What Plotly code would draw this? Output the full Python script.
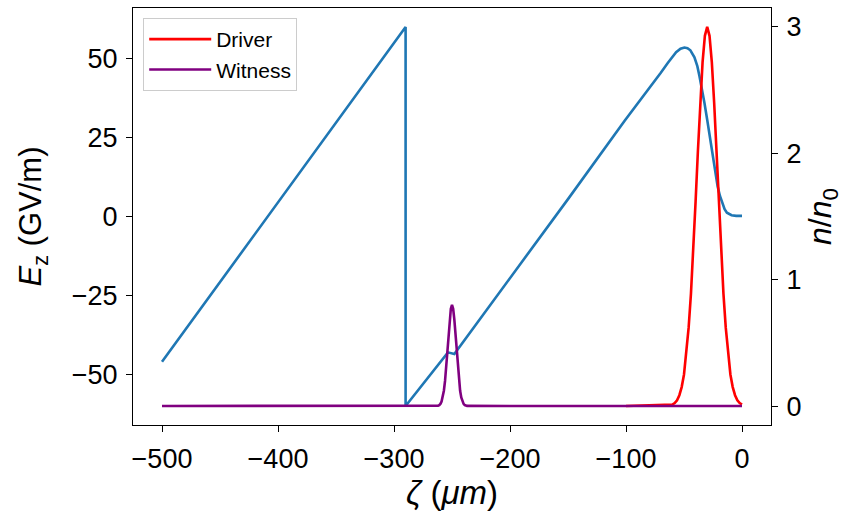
import plotly.graph_objects as go
from plotly.subplots import make_subplots

# Longitudinal field Ez (GV/m) vs zeta (um)
zeta_ez = [-500, -290, -290, -253.5, -248, -200, -150, -101, -80, -70, -64, -60, -56.8,
           -53, -49.6, -47, -44.5, -41, -38.5, -36.7, -34.5, -32.4, -30, -28, -26,
           -24.5, -22.5, -21, -19, -17, -15, -13, -11, -9, -5, 0]
ez_vals = [-46, 60, -60, -43, -43.5, -19.5, 5.5, 30.4, 40.5, 45.5, 48.6, 50.6, 52.0,
           53.1, 53.5, 53.3, 52.6, 50.4, 47.6, 44.5, 40.6, 36.0, 30.6, 25.8, 21.0,
           17.0, 12.8, 9.5, 6.5, 4.0, 2.3, 1.2, 0.7, 0.4, 0.2, 0.2]

# Driver bunch density n/n0
zeta_drv = [-100, -62, -60, -58, -56, -54, -52, -50, -48, -46, -44, -42, -40, -38, -36,
            -34, -32, -30, -28, -26, -24, -22, -20, -18, -16, -14, -12, -10, -8, -6,
            -4, -2, 0]
n_drv = [0, 0.006, 0.012, 0.024, 0.046, 0.086, 0.15, 0.25, 0.41, 0.62, 0.89, 1.23,
         1.62, 2.02, 2.40, 2.72, 2.93, 3.0, 2.93, 2.72, 2.40, 2.02, 1.62, 1.23, 0.89,
         0.62, 0.41, 0.25, 0.15, 0.086, 0.046, 0.024, 0.012]

# Witness bunch density n/n0
zeta_wit = [-500, -263, -262, -261, -260, -259, -258, -257, -256, -255, -254, -253, -252,
            -251, -250, -249, -248, -247, -246, -245, -244, -243, -242, -241, -240,
            -239, -238, -237, 0]
n_wit = [0, 0.001, 0.003, 0.0075, 0.017, 0.035, 0.068, 0.121, 0.199, 0.305, 0.431,
         0.565, 0.686, 0.770, 0.8, 0.770, 0.686, 0.565, 0.431, 0.305, 0.199, 0.121,
         0.068, 0.035, 0.017, 0.0075, 0.003, 0.001, 0]

x_ticks = [-500, -400, -300, -200, -100, 0]
ez_ticks = [-50, -25, 0, 25, 50]
n_ticks = [0, 1, 2, 3]

FONT = "Liberation Sans, Arial, sans-serif"

fig = make_subplots(specs=[[{"secondary_y": True}]])
fig.add_trace(go.Scatter(x=zeta_ez, y=ez_vals, mode="lines", showlegend=False,
                         line=dict(color="#1f77b4", width=2.6)), secondary_y=False)
fig.add_trace(go.Scatter(x=zeta_drv, y=n_drv, mode="lines", name="Driver",
                         line=dict(color="red", width=2.6)), secondary_y=True)
fig.add_trace(go.Scatter(x=zeta_wit, y=n_wit, mode="lines", name="Witness",
                         line=dict(color="purple", width=2.6)), secondary_y=True)

axis_common = dict(showgrid=False, zeroline=False, showline=True, linecolor="black",
                   linewidth=1.3, ticks="outside", ticklen=6, tickwidth=1.3,
                   tickcolor="black", ticklabelstandoff=3,
                   tickfont=dict(family=FONT, size=27, color="black"))

fig.update_xaxes(range=[-525, 25], tickvals=x_ticks, mirror=True, domain=[0, 1],
                 title=dict(text="<i>ζ</i> (<i>μm</i>)",
                            font=dict(family=FONT, size=33, color="black"), standoff=6),
                 **axis_common)
fig.update_yaxes(range=[-66, 66], tickvals=ez_ticks, mirror=True, secondary_y=False,
                 title=dict(text="<i>E</i><sub>z</sub> (GV/m)",
                            font=dict(family=FONT, size=31, color="black"), standoff=20),
                 **axis_common)
fig.update_yaxes(range=[-0.15, 3.15], tickvals=n_ticks, secondary_y=True,
                 title=dict(text="<i>n</i>/<i>n</i><sub>0</sub>",
                            font=dict(family=FONT, size=32, color="black"), standoff=8),
                 **axis_common)

fig.update_layout(
    width=846, height=513,
    margin=dict(l=133, r=75, t=8, b=88),
    plot_bgcolor="white", paper_bgcolor="white",
    legend=dict(x=0.016, y=0.976, xanchor="left", yanchor="top",
                bgcolor="rgba(255,255,255,0.8)", bordercolor="#cccccc", borderwidth=1,
                itemwidth=62,
                font=dict(family=FONT, size=21, color="black")),
)

fig.write_html("out.html")
